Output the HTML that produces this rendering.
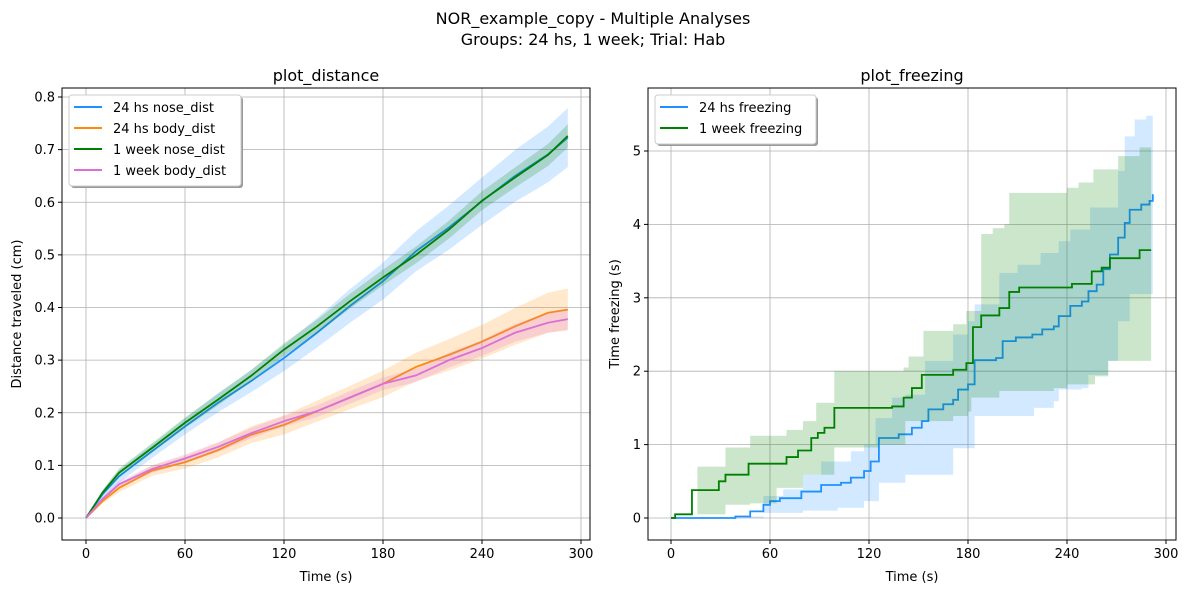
<!DOCTYPE html>
<html><head><meta charset="utf-8"><style>
body{margin:0;background:#fff}
svg{display:block;font-family:"DejaVu Sans","Liberation Sans",sans-serif}
</style></head><body>
<svg id="fig" width="1187" height="592" viewBox="0 0 1187 592">
<text x="593" y="24" font-size="16" text-anchor="middle">NOR_example_copy - Multiple Analyses</text>
<text x="593" y="45" font-size="16" text-anchor="middle">Groups: 24 hs, 1 week; Trial: Hab</text>
</svg>
<script>
// ---- distance data ----
const distTimes=[0,10,20,40,60,80,100,120,140,160,180,200,220,240,260,280,292];
const nose24=[0,0.045,0.079,0.127,0.174,0.219,0.26,0.304,0.352,0.403,0.45,0.507,0.552,0.602,0.65,0.691,0.723];
const nose24Err=[0,0.008,0.012,0.013,0.015,0.018,0.021,0.025,0.028,0.032,0.035,0.038,0.042,0.045,0.049,0.053,0.056];
const body24=[0,0.032,0.057,0.09,0.106,0.129,0.158,0.177,0.203,0.229,0.255,0.287,0.31,0.335,0.364,0.39,0.396];
const body24Err=[0,0.005,0.008,0.01,0.012,0.014,0.016,0.018,0.02,0.022,0.025,0.027,0.03,0.032,0.035,0.038,0.04];
const nose1w=[0,0.048,0.086,0.133,0.181,0.225,0.27,0.32,0.364,0.412,0.457,0.5,0.548,0.603,0.647,0.69,0.726];
const nose1wErr=[0,0.005,0.008,0.009,0.01,0.011,0.011,0.012,0.013,0.014,0.015,0.016,0.017,0.018,0.019,0.021,0.022];
const body1w=[0,0.036,0.064,0.093,0.113,0.135,0.161,0.184,0.203,0.229,0.255,0.271,0.3,0.323,0.352,0.371,0.378];
const body1wErr=[0,0.004,0.006,0.007,0.008,0.009,0.01,0.01,0.011,0.012,0.012,0.013,0.014,0.015,0.017,0.019,0.02];
const distYTicks=[0,0.1,0.2,0.3,0.4,0.5,0.6,0.7,0.8];
const distYLabels=["0.0","0.1","0.2","0.3","0.4","0.5","0.6","0.7","0.8"];
const xTicks=[0,60,120,180,240,300];
// ---- freezing data ----
const fz1wT=[0,2.5,12.7,29,33,47,70,77,85,89,93,99,134,141,146,152,171,179,183,188,199,205,211,243,255,261,266,284,291];
const fz1wV=[0,0.05,0.38,0.5,0.59,0.74,0.83,0.92,1.09,1.16,1.23,1.5,1.52,1.64,1.77,1.95,2.02,2.11,2.6,2.76,2.86,3.08,3.14,3.19,3.36,3.41,3.54,3.65,3.65];
const fz1wUpT=[0,16,33,48,70,80,88,99,141,144,153,171,179,188,195,202,205,240,247,256,271,284,291];
const fz1wUpV=[0,0.7,0.96,1.12,1.2,1.32,1.57,2.0,2.05,2.2,2.55,2.64,2.82,3.87,3.95,4.0,4.43,4.5,4.57,4.75,4.93,5.05,5.05];
const fz1wLoT=[0,16,33,48,64,80,99,126,142,171,180,182,199,232,240,257,265,271,291];
const fz1wLoV=[0,0.05,0.18,0.2,0.41,0.59,0.96,1.0,1.32,1.39,1.45,1.64,1.73,1.77,1.82,1.93,2.14,2.14,2.25];
const fz24T=[0,39,48,56,60,66,79,91,103,109,117,121,126,138,146,152,156,165,171,174,180,184,197,201,209,219,225,232,235,242,249,253,258,262,266,271,275,278,285,290,292];
const fz24V=[0,0.02,0.09,0.18,0.23,0.27,0.36,0.45,0.48,0.55,0.64,0.77,1.09,1.14,1.23,1.32,1.48,1.55,1.61,1.75,1.82,2.15,2.18,2.41,2.46,2.5,2.57,2.61,2.75,2.89,2.95,3.09,3.18,3.39,3.59,3.82,4.02,4.2,4.27,4.32,4.41];
const fz24UpT=[0,56,68,80,91,109,117,124,134,142,154,171,180,184,199,210,224,235,242,254,271,275,281,288,292];
const fz24UpV=[0,0.3,0.39,0.59,0.77,0.91,1.0,1.36,1.64,1.68,2.14,2.5,2.68,2.91,3.34,3.45,3.61,3.77,3.93,4.23,4.73,5.2,5.43,5.48,5.57];
const fz24LoT=[0,48,56,80,101,117,126,142,171,180,184,220,232,235,249,253,265,271,278,292];
const fz24LoV=[0,0.02,0.07,0.1,0.14,0.23,0.48,0.59,0.95,0.95,1.39,1.5,1.59,1.75,1.77,1.95,2.14,2.68,3.05,3.14];
const fzYTicks=[0,1,2,3,4,5];

const NS="http://www.w3.org/2000/svg";
const svg=document.getElementById('fig');
function mk(tag,attrs,parent){const e=document.createElementNS(NS,tag);for(const k in attrs)e.setAttribute(k,attrs[k]);(parent||svg).appendChild(e);return e;}

function axes(cfg){
  const g=mk('g',{});
  
  
  const L=cfg.left,R=cfg.right,T=88,B=540;
  const xs=t=>cfg.x0+(t-0)*(cfg.x300-cfg.x0)/300;
  const ys=v=>cfg.yz+(v-0)*(cfg.ytop-cfg.yz)/cfg.ytopVal;
  xTicks.forEach(t=>{const l=mk('line',{x1:xs(t),x2:xs(t),y1:T,y2:B,stroke:'#b0b0b0','stroke-width':0.8},g);});
  cfg.yTicks.forEach(v=>{const l=mk('line',{x1:L,x2:R,y1:ys(v),y2:ys(v),stroke:'#b0b0b0','stroke-width':0.8},g);});
  const clip=mk('clipPath',{id:cfg.name+'-clip'},g);mk('rect',{x:L,y:T,width:R-L,height:B-T},clip);
  const plot=mk('g',{'clip-path':'url(#'+cfg.name+'-clip)'},g);
  cfg.draw(plot,xs,ys);
  const fr=mk('rect',{x:L,y:T,width:R-L,height:B-T,fill:'none',stroke:'#000','stroke-width':1},g);
  
  xTicks.forEach(t=>{mk('line',{x1:xs(t),x2:xs(t),y1:B,y2:B+4,stroke:'#000'},g);
    const tx=mk('text',{x:xs(t),y:B+18,'font-size':13,'text-anchor':'middle'},g);tx.textContent=t;
    });
  cfg.yTicks.forEach((v,i)=>{mk('line',{x1:L-4,x2:L,y1:ys(v),y2:ys(v),stroke:'#000'},g);
    const tx=mk('text',{x:L-7,y:ys(v)+4.5,'font-size':13,'text-anchor':'end'},g);tx.textContent=cfg.yLabels[i];
    });
  const xt=mk('text',{x:(L+R)/2,y:581,'font-size':13,'text-anchor':'middle'},g);xt.textContent='Time (s)';
  
  const yt=mk('text',{x:0,y:0,'font-size':13,'text-anchor':'middle',transform:`translate(${cfg.ylabX},${(T+B)/2}) rotate(-90)`},g);yt.textContent=cfg.ylabel;
  
  const tt=mk('text',{x:(L+R)/2,y:81,'font-size':16,'text-anchor':'middle'},g);tt.textContent=cfg.title;
  
  const lg=mk('g',{},g);
  
  const lh=cfg.legend.length*21+7;
  mk('rect',{x:L+9,y:T+9,width:cfg.legW,height:lh,rx:3,fill:'#999'},lg);
  mk('rect',{x:L+7,y:T+7,width:cfg.legW,height:lh,rx:3,fill:'#fff',stroke:'#ccc'},lg);
  cfg.legend.forEach((e,i)=>{const y=T+19+i*21;
    const ent=mk('g',{},lg);
    mk('line',{x1:L+12,x2:L+40,y1:y,y2:y,stroke:e[1],'stroke-width':2},ent);
    const t=mk('text',{x:L+51,y:y+5,'font-size':13},ent);t.textContent=e[0];});
}
function smoothSeries(g,xs,ys,T,V,E,col,name){
  let up=T.map((t,i)=>xs(t)+','+ys(V[i]+E[i]));
  let lo=T.map((t,i)=>xs(t)+','+ys(V[i]-E[i])).reverse();
  const b=mk('polygon',{points:up.concat(lo).join(' '),fill:col,'fill-opacity':0.2,stroke:'none'},g);
  
  const l=mk('polyline',{points:T.map((t,i)=>xs(t)+','+ys(V[i])).join(' '),fill:'none',stroke:col,'stroke-width':1.8},g);
  
}
function stepPts(xs,ys,T,V){const p=[];T.forEach((t,i)=>{if(i>0)p.push([xs(t),ys(V[i-1])]);p.push([xs(t),ys(V[i])]);});return p;}
function stepSeries(g,xs,ys,T,V,UT,UV,LT,LV,col,name){
  const up=stepPts(xs,ys,UT,UV),lo=stepPts(xs,ys,LT,LV).reverse();
  const b=mk('polygon',{points:up.concat(lo).map(p=>p.join(',')).join(' '),fill:col,'fill-opacity':0.2,stroke:'none'},g);
  
  const l=mk('polyline',{points:stepPts(xs,ys,T,V).map(p=>p.join(',')).join(' '),fill:'none',stroke:col,'stroke-width':1.8},g);
  
}
axes({name:'plot-distance',left:62,right:590,x0:86,x300:581,yz:518,ytop:97,ytopVal:0.8,
  yTicks:distYTicks,yLabels:distYLabels,ylabel:'Distance traveled (cm)',ylabX:21,title:'plot_distance',legW:172,
  legend:[['24 hs nose_dist','#1e90ff'],['24 hs body_dist','#ff8c00'],['1 week nose_dist','#008000'],['1 week body_dist','#da70d6']],
  draw:(g,xs,ys)=>{
    smoothSeries(g,xs,ys,distTimes,nose24,nose24Err,'#1e90ff','nose-24hs');
    smoothSeries(g,xs,ys,distTimes,body24,body24Err,'#ff8c00','body-24hs');
    smoothSeries(g,xs,ys,distTimes,nose1w,nose1wErr,'#008000','nose-1week');
    smoothSeries(g,xs,ys,distTimes,body1w,body1wErr,'#da70d6','body-1week');
  }});
axes({name:'plot-freezing',left:648,right:1176,x0:671,x300:1166,yz:518,ytop:151,ytopVal:5,
  yTicks:fzYTicks,yLabels:fzYTicks.map(String),ylabel:'Time freezing (s)',ylabX:619,title:'plot_freezing',legW:161,
  legend:[['24 hs freezing','#1e90ff'],['1 week freezing','#008000']],
  draw:(g,xs,ys)=>{
    stepSeries(g,xs,ys,fz24T,fz24V,fz24UpT,fz24UpV,fz24LoT,fz24LoV,'#1e90ff','freezing-24hs');
    stepSeries(g,xs,ys,fz1wT,fz1wV,fz1wUpT,fz1wUpV,fz1wLoT,fz1wLoV,'#008000','freezing-1week');
  }});
</script>
</body></html>
